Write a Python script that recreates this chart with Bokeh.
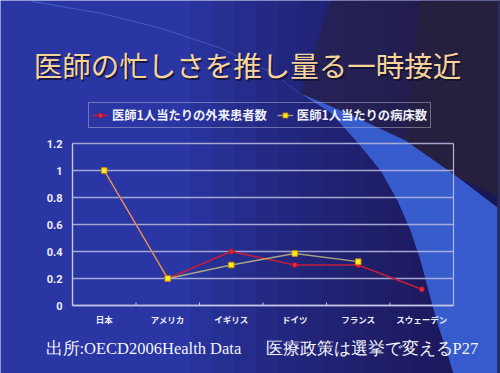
from bokeh.plotting import figure
from bokeh.models import Range1d, Legend, LegendItem
from bokeh.embed import file_html
from bokeh.resources import INLINE
from bokeh.core.properties import value

# ---------------- data ----------------
categories = ["日本", "アメリカ", "イギリス", "ドイツ", "フランス", "スウェーデン"]
outpatients_per_doctor = [1.0, 0.2, 0.4, 0.3, 0.3, 0.12]
beds_per_doctor = [1.0, 0.2, 0.3, 0.385, 0.325]          # no value for スウェーデン
series_names = ["医師1人当たりの外来患者数", "医師1人当たりの病床数"]
y_ticks = [0.0, 0.2, 0.4, 0.6, 0.8, 1.0, 1.2]
y_tick_labels = ["0", "0.2", "0.4", "0.6", "0.8", "1", "1.2"]
y_max = 1.2
title_text = "医師の忙しさを推し量る一時接近"
source_text = "出所:OECD2006Health Data"
book_text = "医療政策は選挙で変えるP27"

n = len(categories)
x_pos = [i + 0.5 for i in range(n)]

# ---------------- layout (pixels on the canvas) ----------------
W, H = 500, 373
FL, FR, FT, FB = 72, 453, 143, 305   # chart plot-area box
cw = (FR - FL) / n            # px per category
ppv = (FB - FT) / y_max       # px per value unit

p = figure(width=W, height=H, output_backend="svg", toolbar_location=None,
           x_range=Range1d(0, W), y_range=Range1d(H, 0),
           x_axis_type=None, y_axis_type=None, min_border=0)
p.extra_x_ranges = {"cat": Range1d(-FL / cw, (W - FL) / cw)}
p.extra_y_ranges = {"val": Range1d(-(H - FB) / ppv, FB / ppv)}
BASE = "#2936a3"
p.border_fill_color = BASE
p.background_fill_color = BASE
p.outline_line_color = None
p.grid.visible = False


# ---------------- slide background ----------------
def poly(pts, color, alpha):
    p.patch([x for x, _ in pts], [y for _, y in pts],
            fill_color=color, fill_alpha=alpha, line_color=None)


for x0 in range(190, 500, 22):
    poly([(x0, 0), (520, 0), (520, 380), (x0, 380)], "#1a1238", 0.075)
poly([(330, 0), (520, 0), (520, 207), (455, 175), (405, 140), (345, 112), (300, 93)], "#2a2236", 0.45)
poly([(420, 0), (520, 0), (520, 207), (455, 175), (405, 140)], "#2a2434", 0.5)
band = [(300, 93), (330, 112), (358, 143), (380, 170), (397, 200), (410, 230),
        (420, 260), (428, 290), (436, 320), (446, 350), (455, 380), (497, 380),
        (497, 207), (455, 175), (405, 140), (345, 112)]
poly(band, "#3a62d6", 0.92)
poly([(497, 0), (520, 0), (520, 380), (497, 380)], "#2a2c58", 1.0)
arc = [(30, 0), (100, 12), (160, 27), (220, 47), (270, 71), (300, 93)]
arc_back = [(x + 1, y + 1.6) for x, y in reversed(arc)]
poly(arc + arc_back, "#7090e8", 0.35)

TITLE_FONT = value("Noto Sans CJK JP")
p.text(x=[247 + 1.5], y=[64 + 1.5], text=[title_text], text_align="center",
       text_baseline="middle", text_font=TITLE_FONT, text_font_size="28.5px",
       text_color="#101030", text_alpha=0.8)
p.text(x=[247], y=[64], text=[title_text], text_align="center",
       text_baseline="middle", text_font=TITLE_FONT, text_font_size="28.5px",
       text_color="#f6d49a")
FOOT_FONT = value("Liberation Serif")
p.text(x=[45, 265], y=[348, 348], text=[source_text, book_text],
       text_align="left", text_baseline="middle", text_font=FOOT_FONT,
       text_font_size="16.5px", text_color="#f4f4fa")

# ---------------- chart frame, grid, axes ----------------
GRID = "#b4b4dc"
AXIS = "#c8c8e6"
C = dict(x_range_name="cat", y_range_name="val")
p.segment(x0=[0] * len(y_ticks), x1=[n] * len(y_ticks), y0=y_ticks, y1=y_ticks,
          line_color=GRID, line_width=1.3, line_alpha=0.9, **C)
p.segment(x0=[n], x1=[n], y0=[0], y1=[y_max], line_color=GRID, line_width=1.2, **C)
p.segment(x0=[0, 0], x1=[0, n], y0=[0, 0], y1=[y_max, 0], line_color=AXIS, line_width=1.4, **C)
bounds = list(range(1, n))
p.segment(x0=bounds, x1=bounds, y0=[0] * len(bounds), y1=[3 / ppv] * len(bounds),
          line_color=AXIS, line_width=1, **C)

p.text(x=[FL - 10] * len(y_ticks), y=y_ticks, text=y_tick_labels, y_range_name="val",
       text_align="right", text_baseline="middle", text_font=value("Roboto"),
       text_font_style="bold", text_font_size="11px", text_color="#eeeef8")
p.text(x=x_pos, y=[FB + 13] * n, text=categories, x_range_name="cat",
       text_align="center", text_baseline="middle", text_font=value("Noto Sans CJK JP"),
       text_font_style="bold", text_font_size="8.5px", text_color="#eeeef8")

# ---------------- series ----------------
r_line = p.line(x_pos, outpatients_per_doctor, line_color="#c41c3c", line_width=1.6, **C)
r_pts = p.scatter(x_pos, outpatients_per_doctor, marker="circle", size=5,
                  fill_color="#e42a3a", line_color="#b01030", **C)
bx = x_pos[:len(beds_per_doctor)]
b_line = p.line(bx, beds_per_doctor, line_color="#c8c486", line_width=1.4, line_alpha=0.8, **C)
b_pts = p.scatter(bx, beds_per_doctor, marker="square", size=5.5,
                  fill_color="#f8f020", line_color="#d89000", **C)

legend = Legend(items=[LegendItem(label=series_names[0], renderers=[r_line, r_pts]),
                       LegendItem(label=series_names[1], renderers=[b_line, b_pts])],
                location=(88, H - 128), orientation="horizontal")
legend.background_fill_alpha = 0
legend.border_line_color = "#b8b8d0"
legend.border_line_width = 1.2
legend.label_text_color = "#f0f0f8"
legend.label_text_font = "Noto Sans CJK JP"
legend.label_text_font_style = "bold"
legend.label_text_font_size = "12.3px"
legend.glyph_width = 16
legend.glyph_height = 12
legend.label_standoff = 4
legend.spacing = 10
legend.padding = 3
legend.margin = 0
legend.label_height = 12
p.add_layout(legend)

open("out.html", "w").write(file_html(p, INLINE))
